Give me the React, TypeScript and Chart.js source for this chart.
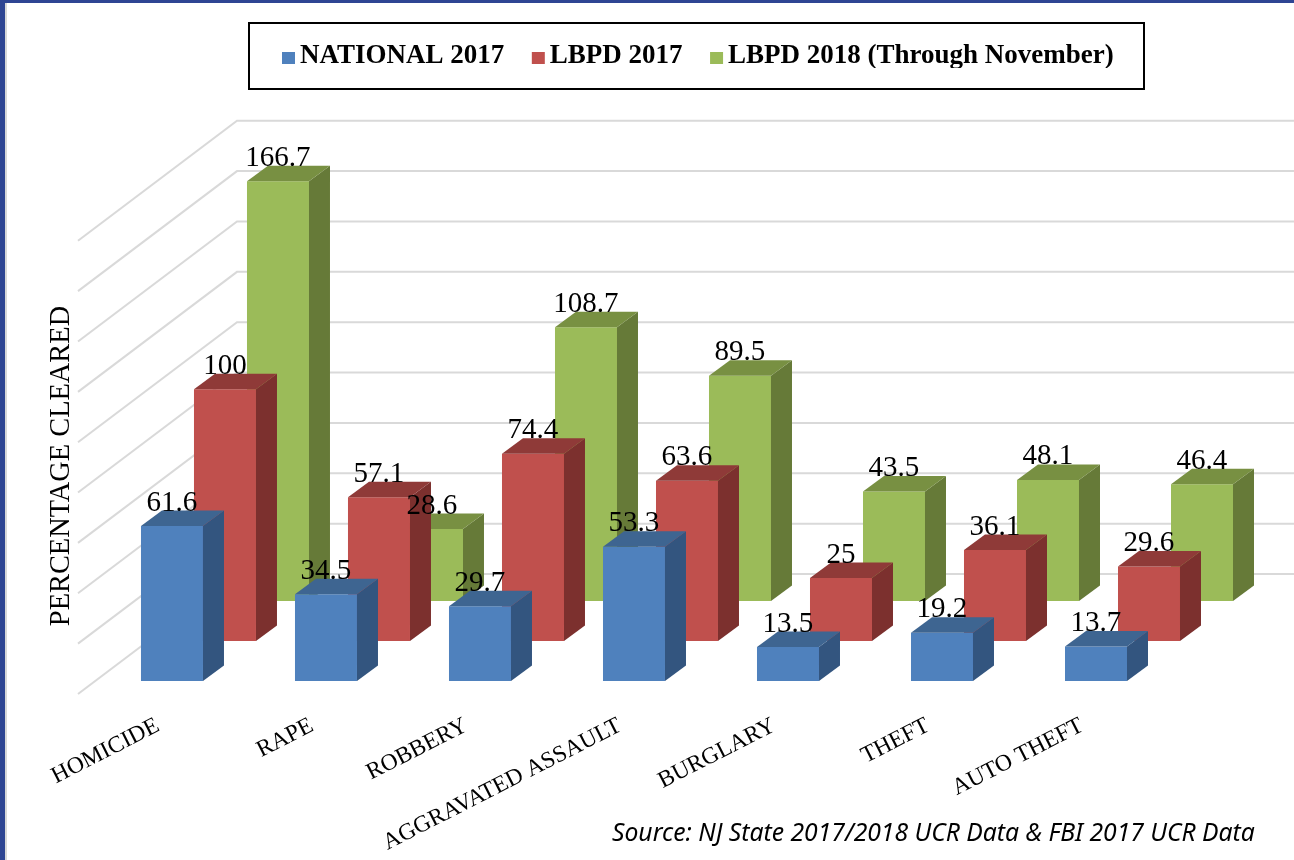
import React, { useEffect, useRef } from "react";
import { Chart, registerables } from "chart.js";

Chart.register(...registerables);

const categories = ["HOMICIDE", "RAPE", "ROBBERY", "AGGRAVATED ASSAULT", "BURGLARY", "THEFT", "AUTO THEFT"];
const national2017 = [61.6, 34.5, 29.7, 53.3, 13.5, 19.2, 13.7];
const lbpd2017 = [100, 57.1, 74.4, 63.6, 25, 36.1, 29.6];
const lbpd2018 = [166.7, 28.6, 108.7, 89.5, 43.5, 48.1, 46.4];
const seriesNames = ["NATIONAL 2017", "LBPD 2017", "LBPD 2018 (Through November)"];
const gridValues = [0, 20, 40, 60, 80, 100, 120, 140, 160, 180];
const frontColors = ["#4F81BD", "#C0504D", "#9BBB59"];
const sideColors = ["#33557F", "#7C302E", "#667A38"];
const topColors = ["#3E6591", "#8F3A38", "#789042"];
const sourceText = "Source: NJ State 2017/2018 UCR Data & FBI 2017 UCR Data";

const SERIF = "'Liberation Serif', serif";
const AREA_TOP = 68;
const AREA_BOTTOM = 700;
const PX_PER_UNIT = 2.518;
const DEPTH_X = 21;
const DEPTH_Y = 15.5;

const planeScale = (zeroPixel: number) => ({
  type: "linear",
  axis: "y",
  display: false,
  bounds: "data",
  min: -(AREA_BOTTOM - zeroPixel) / PX_PER_UNIT,
  max: (zeroPixel - AREA_TOP) / PX_PER_UNIT,
});

const makeMarker = (color: string) => {
  const c = document.createElement("canvas");
  c.width = 30;
  c.height = 24;
  const g = c.getContext("2d")!;
  g.fillStyle = color;
  g.fillRect(11, 8, 13, 12);
  return c;
};

const scene3d = {
  id: "scene3d",
  afterLayout(chart: any) {
    chart.legend.left = 300 - 14.5 - 31;
    chart.legend.top = 11.5;
    chart.titleBlock.top += 36;
    chart.titleBlock.bottom += 36;
  },
  beforeDraw(chart: any) {
    const { ctx, width, height } = chart;
    ctx.save();
    ctx.fillStyle = "#FFFFFF";
    ctx.fillRect(0, 0, width, height);
    ctx.fillStyle = "#D8D8D8";
    ctx.fillRect(5, 0, 2, height);
    ctx.fillStyle = "#2E4593";
    ctx.fillRect(0, 0, 5, height);
    ctx.fillRect(0, 0, width, 3);
    ctx.strokeStyle = "#000000";
    ctx.lineWidth = 2;
    ctx.strokeRect(249, 23, 895, 66);
    ctx.restore();
  },
  beforeDatasetsDraw(chart: any) {
    const { ctx, width } = chart;
    const wall = chart.scales.y3;
    ctx.save();
    ctx.strokeStyle = "#D9D9D9";
    ctx.lineWidth = 2;
    for (const v of gridValues) {
      const y = wall.getPixelForValue(v);
      ctx.beginPath();
      ctx.moveTo(78, y + 120);
      ctx.lineTo(237, y);
      ctx.lineTo(width, y);
      ctx.stroke();
    }
    ctx.restore();
  },
  afterDatasetDraw(chart: any, args: any) {
    const { ctx } = chart;
    ctx.save();
    for (const el of args.meta.data) {
      const { x, y, base, width } = el.getProps(["x", "y", "base", "width"], true);
      const l = x - width / 2;
      const r = x + width / 2;
      ctx.fillStyle = sideColors[args.index];
      ctx.beginPath();
      ctx.moveTo(r, y);
      ctx.lineTo(r + DEPTH_X, y - DEPTH_Y);
      ctx.lineTo(r + DEPTH_X, base - DEPTH_Y);
      ctx.lineTo(r, base);
      ctx.closePath();
      ctx.fill();
      ctx.fillStyle = topColors[args.index];
      ctx.beginPath();
      ctx.moveTo(l, y);
      ctx.lineTo(l + DEPTH_X, y - DEPTH_Y);
      ctx.lineTo(r + DEPTH_X, y - DEPTH_Y);
      ctx.lineTo(r, y);
      ctx.closePath();
      ctx.fill();
    }
    ctx.restore();
  },
  afterDatasetsDraw(chart: any) {
    const { ctx } = chart;
    ctx.save();
    ctx.font = `29px ${SERIF}`;
    ctx.fillStyle = "#000000";
    ctx.textAlign = "center";
    ctx.textBaseline = "middle";
    [2, 1, 0].forEach((i) => {
      chart.getDatasetMeta(i).data.forEach((el: any, j: number) => {
        ctx.fillText(String(chart.data.datasets[i].data[j]), el.x, el.y - 23);
      });
    });
    ctx.restore();
  },
};

export default function App() {
  const ref = useRef<HTMLCanvasElement>(null);
  useEffect(() => {
    const markers = frontColors.map(makeMarker);
    const series = [national2017, lbpd2017, lbpd2018];
    const chart = new Chart(ref.current!, {
      type: "bar",
      data: {
        labels: categories,
        datasets: series.map((data, i) => ({
          label: seriesNames[i],
          data,
          yAxisID: `y${i}`,
          backgroundColor: frontColors[i],
          borderWidth: 0,
          clip: false,
          categoryPercentage: 159 / 154,
          barPercentage: 62 / 53,
        })),
      },
      options: {
        animation: false,
        responsive: false,
        events: [],
        layout: { padding: { left: 0, right: 68, top: 0, bottom: 0 } },
        scales: {
          x: {
            grid: { display: false },
            border: { display: false },
            afterFit: (s: any) => {
              s.height = 860 - AREA_BOTTOM;
            },
            ticks: {
              autoSkip: false,
              minRotation: 27,
              maxRotation: 27,
              labelOffset: -67,
              padding: 4,
              color: "#000000",
              font: { family: SERIF, size: 23.5 },
            },
          },
          y0: planeScale(681),
          y1: planeScale(641),
          y2: planeScale(601),
          y3: planeScale(574),
        },
        plugins: {
          tooltip: { enabled: false },
          title: {
            display: true,
            position: "left",
            text: "PERCENTAGE CLEARED",
            color: "#000000",
            font: { family: SERIF, size: 28.4, weight: "normal" },
            padding: { top: 45, bottom: 68.9 },
          },
          legend: {
            position: "top",
            align: "start",
            labels: {
              usePointStyle: true,
              pointStyleWidth: 1,
              padding: 31,
              color: "#000000",
              font: { family: SERIF, size: 27, weight: "bold" },
              generateLabels: (c: any) =>
                (Chart.defaults.plugins.legend.labels.generateLabels as any)(c).map((it: any, i: number) => ({
                  ...it,
                  pointStyle: markers[i],
                })),
            },
          },
        },
      } as any,
      plugins: [scene3d],
    } as any);
    return () => chart.destroy();
  }, []);
  return (
    <div style={{ position: "absolute", left: 0, top: 0, width: 1294, height: 860, overflow: "hidden" }}>
      <canvas ref={ref} width={1294} height={860} style={{ display: "block" }} />
      <div
        style={{
          position: "absolute",
          left: 612,
          top: 815,
          whiteSpace: "nowrap",
          fontFamily: "'Noto Sans', sans-serif",
          fontStyle: "italic",
          fontSize: 24.7,
          lineHeight: "34px",
          color: "#000000",
        }}
      >
        {sourceText}
      </div>
    </div>
  );
}
